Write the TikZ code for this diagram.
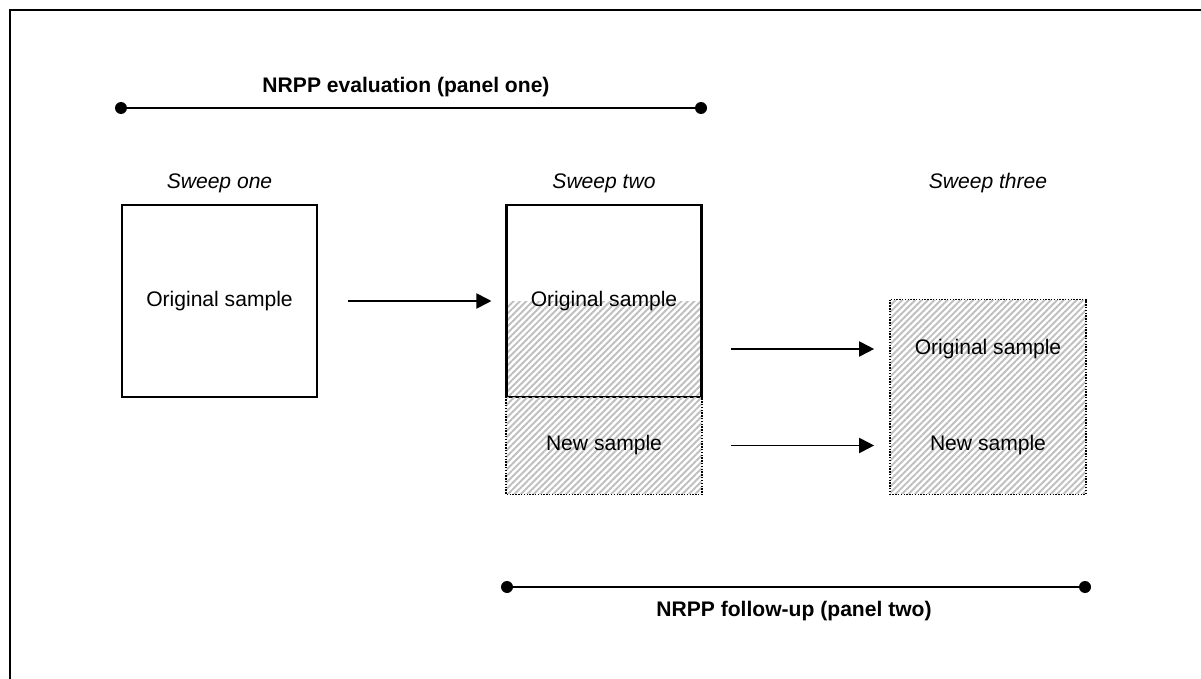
\documentclass[tikz,border=0pt]{standalone}
\usepackage{fontspec}
\setmainfont{Liberation Sans}
\usetikzlibrary{
    arrows.meta,  % For arrow tips
    patterns.meta,% For the hatched samples
    positioning
}

\begin{document}
\begin{tikzpicture}[
    x=0.02cm, y=-0.02cm, % one unit is one pixel of the layout
    >={Triangle[length=0.3cm, width=0.3cm]},
    every node/.style={font=\fontsize{12}{14}\selectfont},
    sweeplabel/.style={font=\fontsize{12}{14}\selectfont\itshape},
    panellabel/.style={font=\fontsize{12}{14}\selectfont\bfseries},
    solidbox/.style={draw, line width=1.2pt, minimum width=3.9cm, minimum height=3.84cm, inner sep=0pt},
    hatch/.style={pattern={Lines[angle=45, distance=2.6pt, line width=1.1pt]}, pattern color=gray!50},
    hatchbox/.style={hatch, minimum width=3.9cm, inner sep=0pt},
    dotframe/.style={dash pattern=on 0.8pt off 0.8pt, line width=0.9pt},
    flow/.style={->, line width=1.1pt},
    panelbar/.style={line width=1.1pt},
    dot/.style={circle, fill, inner sep=0pt, minimum size=0.24cm}
]
    \useasboundingbox (0,0) rectangle (1201,679);

    % Frame (only the top and left edges show)
    \draw[line width=1.1pt] (10,679) -- (10,10) -- (1201,10);

    % Panel one
    \node[dot] (p1start) at (121,108) {};
    \node[dot] (p1end) at (701,108) {};
    \draw[panelbar] (p1start) -- (p1end);
    \node[panellabel] (p1label) at (406,87) {NRPP evaluation (panel one)};

    % Sweep one
    \node[solidbox] (box1) at (219.5,301) {Original sample};
    \node[sweeplabel, above=0.1cm of box1] (s1label) {Sweep one};

    % Sweep two
    \node[hatchbox, minimum height=1.92cm] (orig2hatch) at (604,349) {};
    \node[solidbox] (box2) at (604,301) {Original sample};
    \node[hatchbox, minimum height=1.94cm] (new2) at (604,445.5) {New sample};
    \draw[dotframe] (new2.north west) rectangle (new2.south east);
    \node[sweeplabel, above=0.1cm of box2] (s2label) {Sweep two};

    % Sweep three
    \node[hatchbox, minimum height=3.88cm] (box3) at (988,397) {};
    \draw[dotframe] (box3.north west) rectangle (box3.south east);
    \node (orig3) at (box3 |- orig2hatch) {Original sample};
    \node (new3) at (box3 |- new2) {New sample};
    \node[sweeplabel] (s3label) at (box3 |- s2label) {Sweep three};

    % Arrows between sweeps
    \draw[flow, shorten <=0.6cm, shorten >=0.28cm] (box1.east) -- (box2.west);
    \draw[flow, shorten <=0.58cm, shorten >=0.32cm] (orig2hatch.east) -- (orig2hatch.east -| box3.west);
    \draw[flow, shorten <=0.58cm, shorten >=0.32cm] (new2.east) -- (new2.east -| box3.west);

    % Panel two
    \node[dot] (p2start) at (507,587) {};
    \node[dot] (p2end) at (1085,587) {};
    \draw[panelbar] (p2start) -- (p2end);
    \node[panellabel] (p2label) at (794,611) {NRPP follow-up (panel two)};
\end{tikzpicture}
\end{document}
